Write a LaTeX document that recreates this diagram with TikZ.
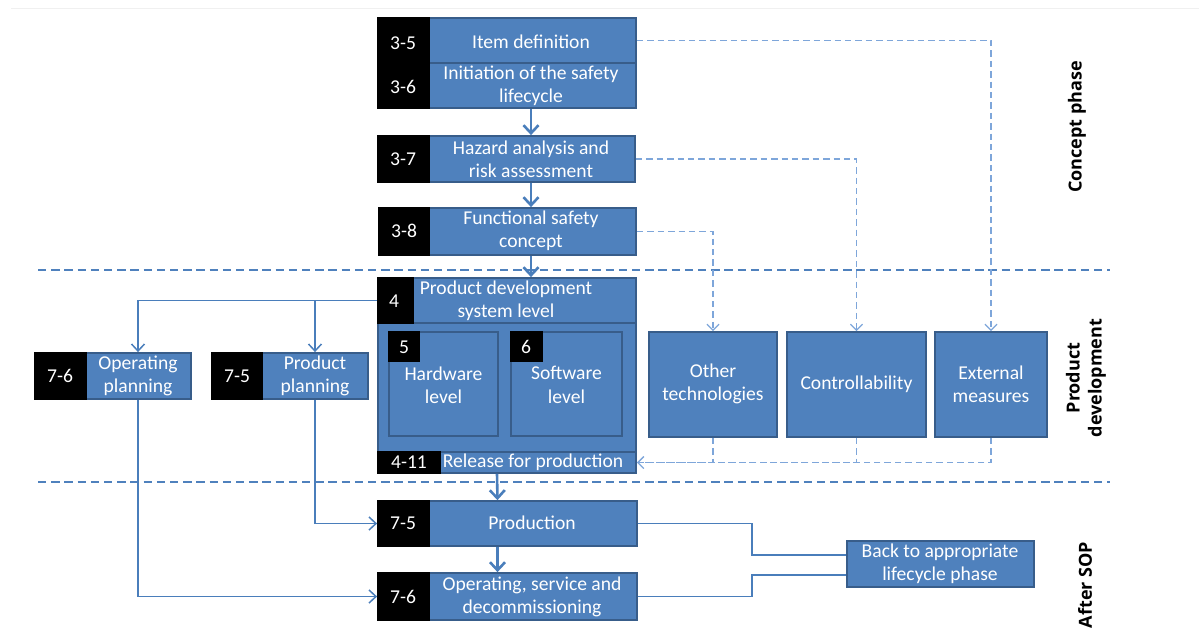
\documentclass[tikz,border=0pt]{standalone}
\usepackage{fontspec}
\setmainfont{Carlito}
\newfontfamily\phasefont{Open Sans}
\usetikzlibrary{arrows.meta,fit}
\definecolor{boxblue}{HTML}{4F81BD}
\definecolor{boxedge}{HTML}{385D8A}
\definecolor{linkblue}{HTML}{4A7EBB}
\definecolor{dashblue}{HTML}{7EA6DA}
\begin{document}
\begin{tikzpicture}[x=0.5pt,y=-0.5pt,
 box/.style={fill=boxblue, draw=boxedge, line width=0.9pt, inner sep=0pt},
 tag/.style={fill=black, draw=black, line width=0.6pt, inner sep=0pt},
 lbl/.style={text=white, font=\fontsize{9.8}{11.7}\selectfont, align=center, inner sep=0pt},
 flow/.style={draw=linkblue, line width=1.3pt, -{Straight Barb[length=4pt,width=7.5pt]}},
 link/.style={draw=linkblue, line width=0.75pt},
 linkarr/.style={link, -{Straight Barb[length=3.5pt,width=6.5pt]}},
 dep/.style={draw=dashblue, line width=0.65pt, dash pattern=on 3.2pt off 2pt, -{Straight Barb[length=3pt,width=6pt]}},
 depline/.style={draw=dashblue, line width=0.65pt, dash pattern=on 3.2pt off 2pt},
 phaseline/.style={draw=boxblue, line width=0.75pt, dash pattern=on 4.2pt off 2.4pt},
 phase/.style={font=\phasefont\bfseries\fontsize{9}{11}\selectfont, rotate=90, align=center, inner sep=0pt}
]
\useasboundingbox (0,0) rectangle (1199,633);
\draw[gray!12, line width=0.5pt] (11,8) -- (1199,8);

% phase separators
\draw[phaseline] (38,270) -- (1110,270);
\draw[phaseline] (38,482) -- (1110,482);

% concept phase
\node[box, fit={(378,18) (636,63)}] (item) {};
\node[box, fit={(378,63) (636,108)}] (init) {};
\node[tag, fit={(378,18) (429,63)}] (t35) {};
\node[tag, fit={(378,63) (429,108)}] (t36) {};
\node[lbl] (t35txt) at (403,43) {3-5};
\node[lbl] (t36txt) at (403,87) {3-6};
\node[lbl] (itemtxt) at (531,42) {Item definition};
\node[lbl] (inittxt) at (531,86) {Initiation of the safety\\lifecycle};

\node[box, fit={(378,136) (635,182)}] (haz) {};
\node[tag, fit={(378,136) (429,182)}] (t37) {};
\node[lbl] (t37txt) at (403,159) {3-7};
\node[lbl] (haztxt) at (531,159) {Hazard analysis and\\risk assessment};

\node[box, fit={(379,208) (636,255)}] (fsc) {};
\node[tag, fit={(379,208) (429,255)}] (t38) {};
\node[lbl] (t38txt) at (404,231) {3-8};
\node[lbl] (fsctxt) at (531,231) {Functional safety\\concept};

% product development
\node[box, fit={(378,278) (636,473)}] (sd) {};
\node[box, fit={(378,278) (636,323)}] (sys) {};
\node[tag, fit={(378,278) (413,323)}] (t4) {};
\node[lbl] (t4txt) at (394,301) {4};
\node[lbl] (systxt) at (506,301) {Product development\\system level};

\node[box, fit={(389,332) (498,436)}] (hw) {};
\node[tag, fit={(389,332) (419,361)}] (t5) {};
\node[lbl] (t5txt) at (404,347) {5};
\node[lbl] (hwtxt) at (443.5,385) {Hardware\\level};

\node[box, fit={(511,332) (622,436)}] (sw) {};
\node[tag, fit={(511,332) (542,361)}] (t6) {};
\node[lbl] (t6txt) at (526,347) {6};
\node[lbl] (swtxt) at (566.5,385) {Software\\level};

\node[box, fit={(378,452) (636,473)}] (rel) {};
\node[tag, fit={(378,452) (440,473)}] (t411) {};
\node[lbl] (t411txt) at (409,462) {4-11};
\node[lbl] (reltxt) at (533,462) {Release for production};

\node[box, fit={(649,332) (777,437)}] (oth) {};
\node[lbl] (othtxt) at (713,384) {Other\\technologies};
\node[box, fit={(787,332) (926,437)}] (ctrl) {};
\node[lbl] (ctrltxt) at (856.5,384) {Controllability};
\node[box, fit={(935,332) (1047,437)}] (ext) {};
\node[lbl] (exttxt) at (991,384) {External\\measures};

\node[box, fit={(35,353) (191,399)}] (opp) {};
\node[tag, fit={(35,353) (86,399)}] (t76a) {};
\node[lbl] (t76atxt) at (60,376) {7-6};
\node[lbl] (opptxt) at (138,376) {Operating\\planning};

\node[box, fit={(212,353) (368,399)}] (ppl) {};
\node[tag, fit={(212,353) (262,399)}] (t75a) {};
\node[lbl] (t75atxt) at (237,376) {7-5};
\node[lbl] (ppltxt) at (315,376) {Product\\planning};

% after SOP
\node[box, fit={(378,501) (637,546)}] (prod) {};
\node[tag, fit={(378,501) (429,546)}] (t75b) {};
\node[lbl] (t75btxt) at (403,523) {7-5};
\node[lbl] (prodtxt) at (532,523) {Production};

\node[box, fit={(378,573) (637,620)}] (ops) {};
\node[tag, fit={(378,573) (429,620)}] (t76b) {};
\node[lbl] (t76btxt) at (403,597) {7-6};
\node[lbl] (opstxt) at (532,597) {Operating, service and\\decommissioning};

\node[box, fit={(847,541) (1034,587)}] (back) {};
\node[lbl] (backtxt) at (940,564) {Back to appropriate\\lifecycle phase};

% phase labels
\node[phase] (ph1) at (1077,127) {Concept phase};
\node[phase] (ph2) at (1086,378) {Product\\development};
\node[phase] (ph3) at (1085,585) {After SOP};

% main flow
\draw[flow] (init.south -| haztxt) -- (haz.north -| haztxt);
\draw[flow] (haz.south -| haztxt) -- (fsc.north -| haztxt);
\draw[flow] (fsc.south -| haztxt) -- (sd.north -| haztxt);
\draw[flow] ([xshift=-5pt]rel.south) -- ([xshift=-5pt]prod.north);
\draw[flow] ([xshift=-5pt]prod.south) -- ([xshift=-5pt]ops.north);

% planning links
\draw[linkarr] (sys.west) -| (opp.north -| opptxt);
\draw[linkarr] (sys.west -| ppltxt) -- (ppl.north -| ppltxt);
\draw[linkarr] (opp.south -| opptxt) |- (ops.west);
\draw[linkarr] (ppl.south -| ppltxt) |- (prod.west);

% back links
\coordinate (j1) at (752,555);
\coordinate (j2) at (752,575);
\draw[link] (prod.east) -| (j1) -- (back.west |- j1);
\draw[link] (ops.east) -| (j2) -- (back.west |- j2);

% dashed dependencies
\draw[dep] (item.east) -| (ext.north);
\draw[dep] (haz.east) -| (ctrl.north);
\draw[dep] (fsc.east) -| (oth.north);
\draw[depline] (ext.south) |- (rel.east);
\draw[depline] (ctrl.south) |- (rel.east);
\draw[dep] (oth.south) |- (rel.east);
\end{tikzpicture}
\end{document}
